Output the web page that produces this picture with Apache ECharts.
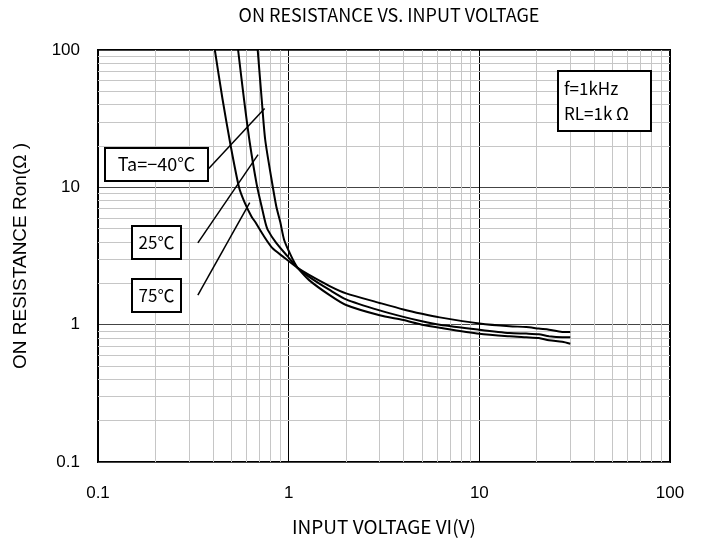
<!DOCTYPE html>
<html>
<head>
<meta charset="utf-8">
<script src="https://cdn.jsdelivr.net/npm/echarts@6/dist/echarts.min.js"></script>
<style>
html,body{margin:0;padding:0;background:#fff;}
#chart{width:712px;height:544px;}
</style>
</head>
<body>
<div id="chart"></div>
<script>
// ---- data (V, Ron) ----
const seriesNames = ['Ta=-40℃', '25℃', '75℃'];
const dataM40 = [[0.688,100],[0.722,43.8],[0.753,22.3],[0.810,11.8],[0.862,7.22],[0.903,5.61],[0.947,4.14],[1.012,3.33],[1.075,2.81],[1.115,2.59],[1.28,2.11],[1.64,1.64],[2,1.39],[3,1.17],[4,1.08],[5,1.00],[6.2,0.95],[10,0.86],[14.4,0.823],[17.6,0.81],[20.5,0.80],[23.2,0.77],[27.2,0.75],[30,0.727]];
const data25 = [[0.543,100],[0.583,43.8],[0.625,21.2],[0.680,10.47],[0.722,7.22],[0.753,5.61],[0.777,4.90],[0.862,3.92],[0.988,3.14],[1.115,2.59],[1.28,2.23],[1.64,1.79],[2,1.53],[3,1.27],[4,1.14],[5,1.06],[6.2,1.00],[10,0.92],[14.4,0.87],[17.6,0.861],[20.5,0.851],[23.2,0.823],[27.2,0.81],[30,0.81]];
const data75 = [[0.410,100],[0.450,43.8],[0.495,20.5],[0.549,10],[0.588,7.73],[0.638,6.14],[0.672,5.52],[0.734,4.51],[0.820,3.62],[0.934,3.13],[1.115,2.59],[1.28,2.30],[1.64,1.91],[2,1.69],[3,1.44],[4,1.29],[5,1.20],[6.2,1.13],[10,1.02],[14.4,0.973],[17.6,0.962],[20.5,0.936],[23.2,0.92],[27.2,0.885],[30,0.885]];
// leader lines from label boxes to curves
const leaderM40 = [[0.381,13.7],[0.748,37.5]];
const leader25 = [[0.334,3.94],[0.691,17.3]];
const leader75 = [[0.334,1.64],[0.625,7.73]];
const xMinorGrid = [0.2,0.3,0.4,0.5,0.6,0.7,0.8,0.9,2,3,4,5,6,7,8,9,20,30,40,50,60,70,80,90];
const yMinorGrid = [0.2,0.3,0.4,0.5,0.6,0.7,0.8,0.9,2,3,4,5,6,7,8,9,20,30,40,50,60,70,80,90];
const conditionText = 'f=1kHz\nRL=1k Ω';

const gothic = '"Noto Sans CJK JP", sans-serif';
const arial = '"Liberation Sans", Arial, sans-serif';

const chart = echarts.init(document.getElementById('chart'), null, {renderer:'canvas'});

function curve(name, data){
  return {name, type:'line', data, symbol:'none', smooth:0.25,
    lineStyle:{color:'#000', width:2}, z:5, silent:true};
}
function leader(data){
  return {type:'line', data, symbol:'none', lineStyle:{color:'#000', width:1.5}, z:6, silent:true};
}
function box(left, top, w, h, text, size, align){
  return {type:'group', left, top, children:[
    {type:'rect', z:100, shape:{x:0,y:0,width:w,height:h}, style:{fill:'#fff', stroke:'#000', lineWidth:2}},
    {type:'text', z:101, x: align==='left' ? 6 : w/2, y:h/2,
      style:{text, font:size+'px '+gothic, lineHeight:25, fill:'#000', textAlign:align||'center', textVerticalAlign:'middle'}}
  ]};
}

const option = {
  backgroundColor:'#fff',
  animation:false,
  title:{text:'ON RESISTANCE VS. INPUT VOLTAGE', left:384, top:1, textAlign:'center',
    textStyle:{fontFamily:gothic, fontSize:18, fontWeight:'normal', color:'#000'}},
  grid:{left:98, right:42, top:50, bottom:82, show:true, borderColor:'#000', borderWidth:2, backgroundColor:'transparent'},
  xAxis:{type:'log', logBase:10, min:0.1, max:100,
    name:'INPUT VOLTAGE VI(V)', nameLocation:'middle', nameGap:55,
    nameTextStyle:{fontFamily:gothic, fontSize:19, color:'#000'},
    axisLine:{show:false}, axisTick:{show:false},
    axisLabel:{fontFamily:arial, fontSize:17, color:'#000', margin:23,
      formatter:v=>String(v)},
    splitLine:{show:true, lineStyle:{color:'#000', width:1}}},
  yAxis:{type:'log', logBase:10, min:0.1, max:100,
    name:'ON RESISTANCE Ron(Ω )', nameLocation:'middle', nameGap:68, nameRotate:90,
    nameTextStyle:{fontFamily:arial, fontSize:19, color:'#000'},
    axisLine:{show:false}, axisTick:{show:false},
    axisLabel:{fontFamily:arial, fontSize:17, color:'#000', margin:18,
      formatter:v=>String(v)},
    splitLine:{show:true, lineStyle:{color:'#444', width:1}}},
  series:[
    {type:'line', data:[], silent:true, z:1,
      markLine:{silent:true, symbol:'none', label:{show:false}, z:1,
        lineStyle:{color:'#c6c6c6', width:1, type:'solid'},
        data: xMinorGrid.map(v=>({xAxis:v})).concat(yMinorGrid.map(v=>({yAxis:v})))}},
    curve(seriesNames[0], dataM40),
    curve(seriesNames[1], data25),
    curve(seriesNames[2], data75),
    leader(leaderM40), leader(leader25), leader(leader75)
  ],
  graphic:[
    box(104, 147, 103, 33, 'Ta=−40℃', 18),
    box(131, 225, 49, 33, '25℃', 17),
    box(131, 278, 49, 33, '75℃', 17),
    box(557, 70, 93, 60, conditionText, 17, 'left')
  ]
};
chart.setOption(option);
</script>
</body>
</html>
